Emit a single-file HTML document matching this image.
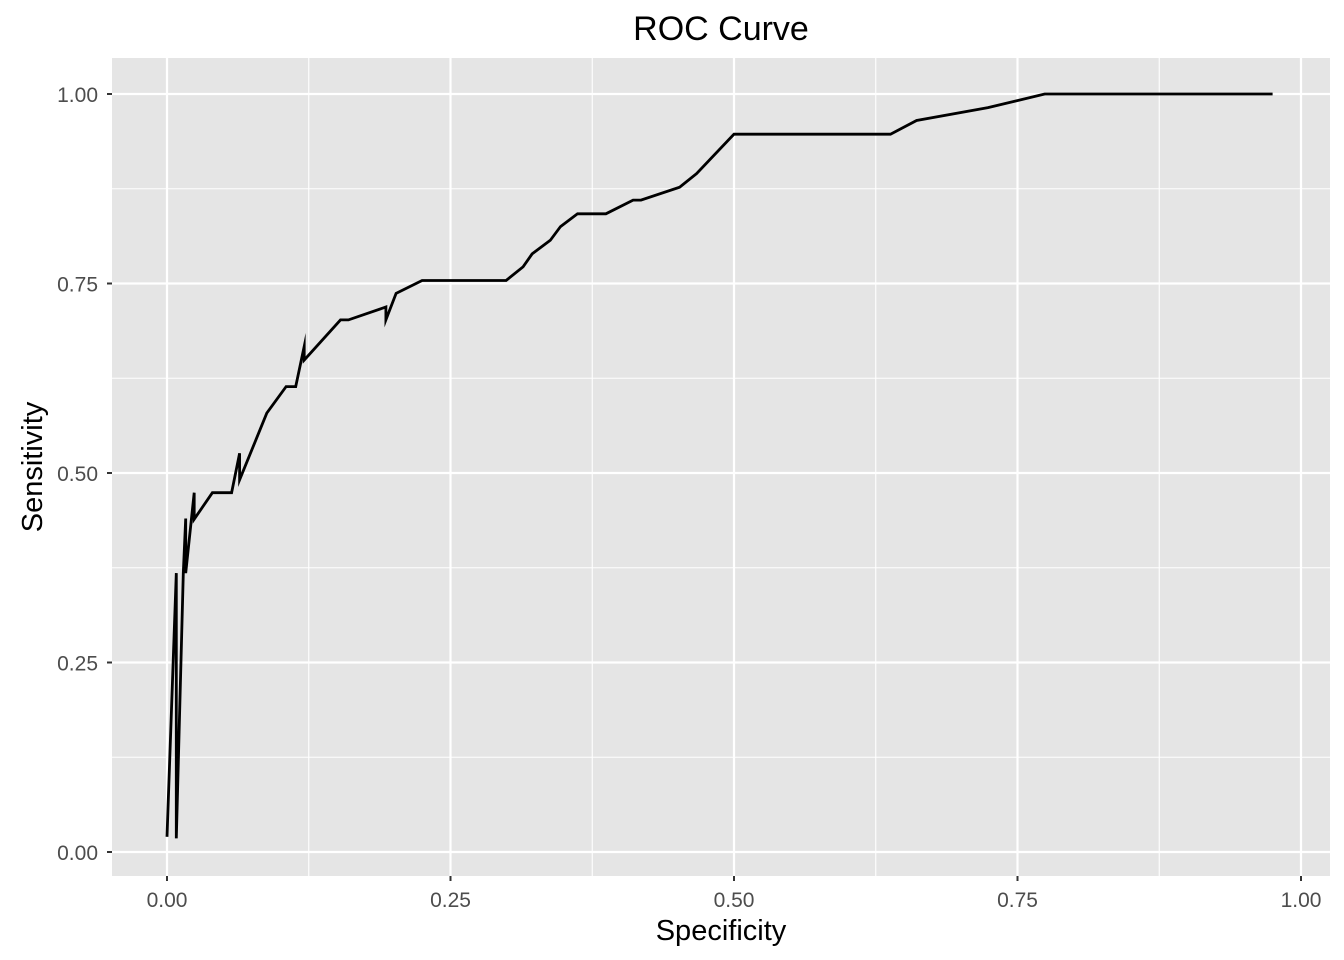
<!DOCTYPE html>
<html><head><meta charset="utf-8"><title>ROC Curve</title>
<style>html,body{margin:0;padding:0;background:#fff;}svg{display:block;font-family:"Liberation Sans",Arial,sans-serif;}</style>
</head><body>
<svg id="chart" width="1344" height="960" viewBox="0 0 1344 960"></svg>
<script>
const xTicks=[0,0.25,0.5,0.75,1];
const yTicks=[0,0.25,0.5,0.75,1];
const xTickLabels=["0.00","0.25","0.50","0.75","1.00"];
const yTickLabels=["0.00","0.25","0.50","0.75","1.00"];
const spec=[0,0.0082,0.0082,0.0144,0.0165,0.0165,0.024,0.024,0.040,0.057,0.064,0.064,0.088,0.105,0.1135,0.121,0.121,0.153,0.160,0.193,0.193,0.202,0.225,0.299,0.314,0.322,0.338,0.347,0.362,0.387,0.411,0.418,0.452,0.467,0.5,0.638,0.661,0.724,0.774,0.975];
const sens=[0.02,0.368,0.018,0.368,0.44,0.368,0.474,0.439,0.474,0.474,0.526,0.491,0.579,0.614,0.614,0.667,0.649,0.702,0.702,0.719,0.702,0.737,0.754,0.754,0.772,0.789,0.807,0.825,0.842,0.842,0.86,0.86,0.877,0.895,0.947,0.947,0.965,0.982,1,1];

const NS="http://www.w3.org/2000/svg";
const svg=document.getElementById('chart');
const P={l:112,r:1330,t:58,b:876};
const sx=v=>167+v*1134;
const sy=v=>852-v*758;
function mk(tag,attrs,parent){const e=document.createElementNS(NS,tag);for(const k in attrs)e.setAttribute(k,attrs[k]);(parent||svg).appendChild(e);return e;}

const panel=mk('rect',{x:P.l,y:P.t,width:P.r-P.l,height:P.b-P.t,fill:'#e5e5e5'});



const grid=mk('g',{});


for(let i=0;i<xTicks.length-1;i++){
  const m=(xTicks[i]+xTicks[i+1])/2;
  mk('line',{x1:sx(m),x2:sx(m),y1:P.t,y2:P.b,stroke:'#fff','stroke-width':1.1},grid);
  const n=(yTicks[i]+yTicks[i+1])/2;
  mk('line',{x1:P.l,x2:P.r,y1:sy(n),y2:sy(n),stroke:'#fff','stroke-width':1.1},grid);
}
xTicks.forEach((v,i)=>{
  mk('line',{x1:sx(v),x2:sx(v),y1:P.t,y2:P.b,stroke:'#fff','stroke-width':2.2},grid);
  const t=mk('line',{x1:sx(v),x2:sx(v),y1:P.b,y2:P.b+5,stroke:'#333','stroke-width':2});
  
  
  const l=mk('text',{x:sx(v),y:907,'text-anchor':'middle','font-size':21,fill:'#4d4d4d'});
  l.textContent=xTickLabels[i];
  
  
});
yTicks.forEach((v,i)=>{
  mk('line',{x1:P.l,x2:P.r,y1:sy(v),y2:sy(v),stroke:'#fff','stroke-width':2.2},grid);
  const t=mk('line',{x1:P.l-5,x2:P.l,y1:sy(v),y2:sy(v),stroke:'#333','stroke-width':2});
  
  
  const l=mk('text',{x:98,y:sy(v)+8,'text-anchor':'end','font-size':21,fill:'#4d4d4d'});
  l.textContent=yTickLabels[i];
  
  
});

const pts=spec.map((v,i)=>sx(v).toFixed(1)+','+sy(sens[i]).toFixed(1)).join(' ');
const curve=mk('polyline',{points:pts,fill:'none',stroke:'#000','stroke-width':2.8,'stroke-linejoin':'miter','stroke-miterlimit':10});



const title=mk('text',{x:(P.l+P.r)/2,y:40,'text-anchor':'middle','font-size':34,fill:'#000'});
title.textContent='ROC Curve';



const xt=mk('text',{x:(P.l+P.r)/2,y:940,'text-anchor':'middle','font-size':29,fill:'#000'});
xt.textContent='Specificity';



const yt=mk('text',{x:0,y:0,'text-anchor':'middle','font-size':29,fill:'#000',transform:'translate(42,'+((P.t+P.b)/2)+') rotate(-90)'});
yt.textContent='Sensitivity';


</script>
</body></html>
